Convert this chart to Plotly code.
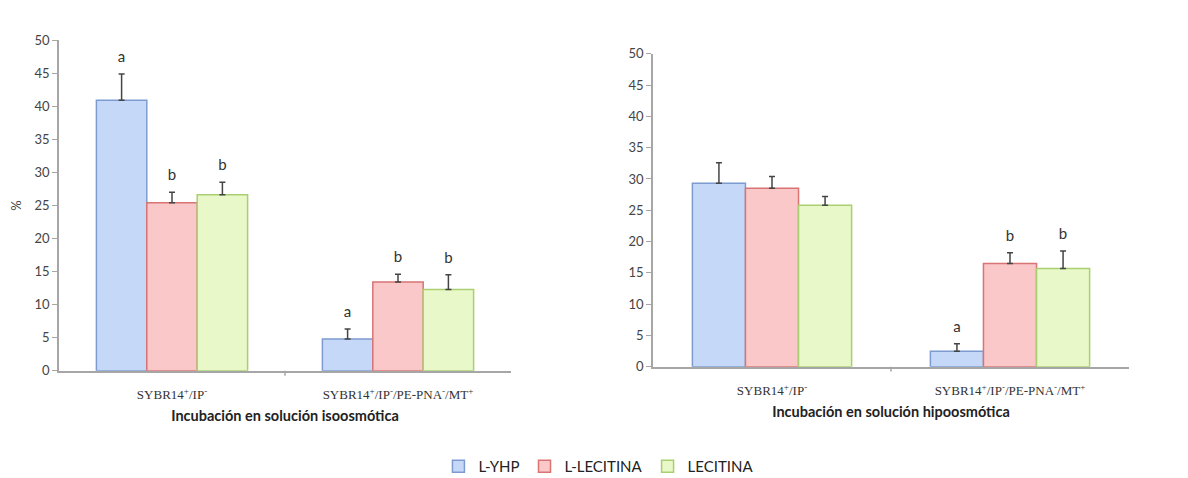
import plotly.graph_objects as go

categories = ["SYBR14<sup>+</sup>/IP<sup>-</sup>",
              "SYBR14<sup>+</sup>/IP<sup>-</sup>/PE-PNA<sup>-</sup>/MT<sup>+</sup>"]
series = ["L-YHP", "L-LECITINA", "LECITINA"]

# Incubación en solución isoosmótica
iso_vals = {"L-YHP": [40.9, 4.8], "L-LECITINA": [25.4, 13.4], "LECITINA": [26.6, 12.3]}
iso_err = {"L-YHP": [4.0, 1.5], "L-LECITINA": [1.6, 1.2], "LECITINA": [1.9, 2.2]}
iso_letters = {"L-YHP": ["a", "a"], "L-LECITINA": ["b", "b"], "LECITINA": ["b", "b"]}

# Incubación en solución hipoosmótica
hipo_vals = {"L-YHP": [29.3, 2.5], "L-LECITINA": [28.5, 16.5], "LECITINA": [25.8, 15.7]}
hipo_err = {"L-YHP": [3.3, 1.2], "L-LECITINA": [1.9, 1.7], "LECITINA": [1.4, 2.8]}
hipo_letters = {"L-YHP": ["", "a"], "L-LECITINA": ["", "b"], "LECITINA": ["", "b"]}

fills = {"L-YHP": "#c6d8f8", "L-LECITINA": "#fac8c8", "LECITINA": "#e8f8c8"}
lines = {"L-YHP": "#7d9bd0", "L-LECITINA": "#d87474", "LECITINA": "#a9cf72"}

W, H = 1188, 478
bar_w = 0.223
offsets = [-bar_w, 0.0, bar_w]

fig = go.Figure()

def add_panel(vals, errs, letters, xa, ya, show_legend):
    for i, s in enumerate(series):
        xs = [g + offsets[i] for g in range(len(categories))]
        fig.add_trace(go.Bar(
            x=xs, y=vals[s], width=bar_w, name=s,
            marker=dict(color=fills[s], line=dict(color=lines[s], width=1.5)),
            error_y=dict(type="data", array=errs[s], arrayminus=[0] * len(errs[s]),
                         symmetric=False, color="#444444", thickness=1.5, width=3),
            xaxis=xa, yaxis=ya, showlegend=show_legend, legendgroup=s,
        ))
        pts = [(x, v + e + 1.3, t) for x, v, e, t in zip(xs, vals[s], errs[s], letters[s]) if t]
        if pts:
            fig.add_trace(go.Scatter(
                x=[p[0] for p in pts], y=[p[1] for p in pts], text=[p[2] for p in pts],
                mode="text", textposition="top center",
                textfont=dict(family="Lato, Open Sans, sans-serif", size=15, color="#333333"),
                xaxis=xa, yaxis=ya, showlegend=False, hoverinfo="skip",
            ))

add_panel(iso_vals, iso_err, iso_letters, "x", "y", True)
add_panel(hipo_vals, hipo_err, hipo_letters, "x2", "y2", False)

axis_line = "#a6a6a6"
tickfont = dict(family="Lato, Open Sans, sans-serif", size=13, color="#444444")
catfont = dict(family="Liberation Serif, Times New Roman, serif", size=13, color="#333333")
titlefont = dict(family="Lato, Open Sans, sans-serif", size=14.5, color="#222222")

def xaxis_cfg(domain, title, anchor):
    return dict(domain=domain, range=[-0.5, 1.5], tickvals=[0, 1], ticktext=categories,
                tickfont=catfont, showline=True, linecolor=axis_line, linewidth=1.5,
                ticks="", showgrid=False, zeroline=False, anchor=anchor,
                ticklabelstandoff=11,
                title=dict(text=title, font=titlefont, standoff=10))

def yaxis_cfg(domain, anchor, title=None):
    d = dict(domain=domain, range=[0, 50], dtick=5, tickfont=tickfont, showline=True,
             linecolor=axis_line, linewidth=1.5, ticks="outside", ticklen=5,
             tickcolor=axis_line, showgrid=False, zeroline=False, anchor=anchor)
    if title:
        d["title"] = dict(text=title, font=dict(family="Lato, sans-serif", size=13, color="#444444"), standoff=12)
    return d

fig.update_layout(
    width=W, height=H,
    margin=dict(l=0, r=0, t=0, b=0),
    paper_bgcolor="white", plot_bgcolor="white",
    barmode="overlay",
    xaxis=xaxis_cfg([51 / W, 503 / W], "<b>Incubación en solución isoosmótica</b>", "y"),
    yaxis=yaxis_cfg([(H - 367) / H, (H - 25) / H], "x", "%"),
    xaxis2=xaxis_cfg([645 / W, 1121 / W], "<b>Incubación en solución hipoosmótica</b>", "y2"),
    yaxis2=yaxis_cfg([(H - 363) / H, (H - 39) / H], "x2"),
    legend=dict(orientation="h", x=0.497, xanchor="center", y=(H - 466) / H, yanchor="middle",
                font=dict(family="Lato, Open Sans, sans-serif", size=15, color="#222222"),
                itemwidth=30, tracegroupgap=0),
    showlegend=True,
)

# divider tick marks between categories
for xa, ya in (("x", "y"), ("x2", "y2")):
    fig.add_shape(type="line", xref=xa, yref=ya + " domain", x0=0.5, x1=0.5, y0=0, y1=-0.015,
                  line=dict(color=axis_line, width=1.5))

fig.write_html("out.html")
